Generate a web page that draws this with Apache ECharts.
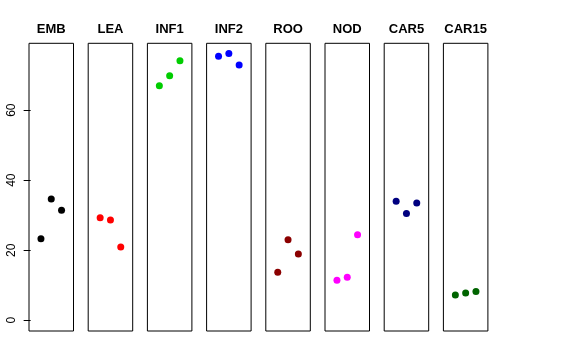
<!DOCTYPE html>
<html><head><meta charset="utf-8">
<script src="https://cdn.jsdelivr.net/npm/echarts@6/dist/echarts.min.js"></script>
<style>html,body{margin:0;padding:0;background:#fff}#c{width:576px;height:360px}</style>
</head><body><div id="c"></div>
<script>
const categories = ['EMB','LEA','INF1','INF2','ROO','NOD','CAR5','CAR15'];
const colors = ['#000000','#FF0000','#00CD00','#0000FF','#8B0000','#FF00FF','#000080','#006400'];
const xPositions = [1, 2, 3];
const EMB = [23.3, 34.6, 31.4];
const LEA = [29.3, 28.6, 20.9];
const INF1 = [67.0, 69.8, 74.1];
const INF2 = [75.4, 76.2, 72.9];
const ROO = [13.7, 23.0, 18.9];
const NOD = [11.4, 12.3, 24.4];
const CAR5 = [34.0, 30.5, 33.5];
const CAR15 = [7.2, 7.8, 8.2];
const values = [EMB, LEA, INF1, INF2, ROO, NOD, CAR5, CAR15];
const yTicks = [0, 20, 40, 60];

(function () {
  const left0 = 29, step = 59.2, w = 44.5, gTop = 43.3, gH = 287.7;
  const yMin = -3.07, yMax = 79.1;

  const grids = [], xAxes = [], yAxes = [], series = [], graphics = [];
  categories.forEach((name, i) => {
    const L = left0 + i * step;
    grids.push({left: L, top: gTop, width: w, height: gH, show: true, borderColor: '#000', borderWidth: 1, backgroundColor: 'transparent'});
    xAxes.push({type: 'value', gridIndex: i, min: -0.16, max: 4.16, show: false});
    yAxes.push({
      type: 'value', gridIndex: i, min: yMin, max: yMax, show: i === 0,
      splitLine: {show: false},
      axisLine: {show: false},
      axisTick: {show: true, length: 7, lineStyle: {color: '#000'}, customValues: yTicks},
      axisLabel: {show: true, rotate: 90, margin: 11, color: '#000', fontSize: 12, fontFamily: 'Liberation Sans', customValues: yTicks}
    });
    series.push({
      type: 'scatter', xAxisIndex: i, yAxisIndex: i, symbol: 'circle', symbolSize: 7,
      itemStyle: {color: colors[i], opacity: 1},
      data: values[i].map((v, k) => [xPositions[k], v]),
      silent: true
    });
    graphics.push({
      type: 'text', x: L + w / 2, y: 29,
      style: {text: name, textAlign: 'center', textVerticalAlign: 'middle', fill: '#000', font: 'bold 13px "Liberation Sans"'}
    });
  });

  const chart = echarts.init(document.getElementById('c'), null, {renderer: 'canvas'});
  chart.setOption({
    animation: false,
    backgroundColor: '#fff',
    grid: grids, xAxis: xAxes, yAxis: yAxes, series: series, graphic: graphics
  });
})();
</script></body></html>
